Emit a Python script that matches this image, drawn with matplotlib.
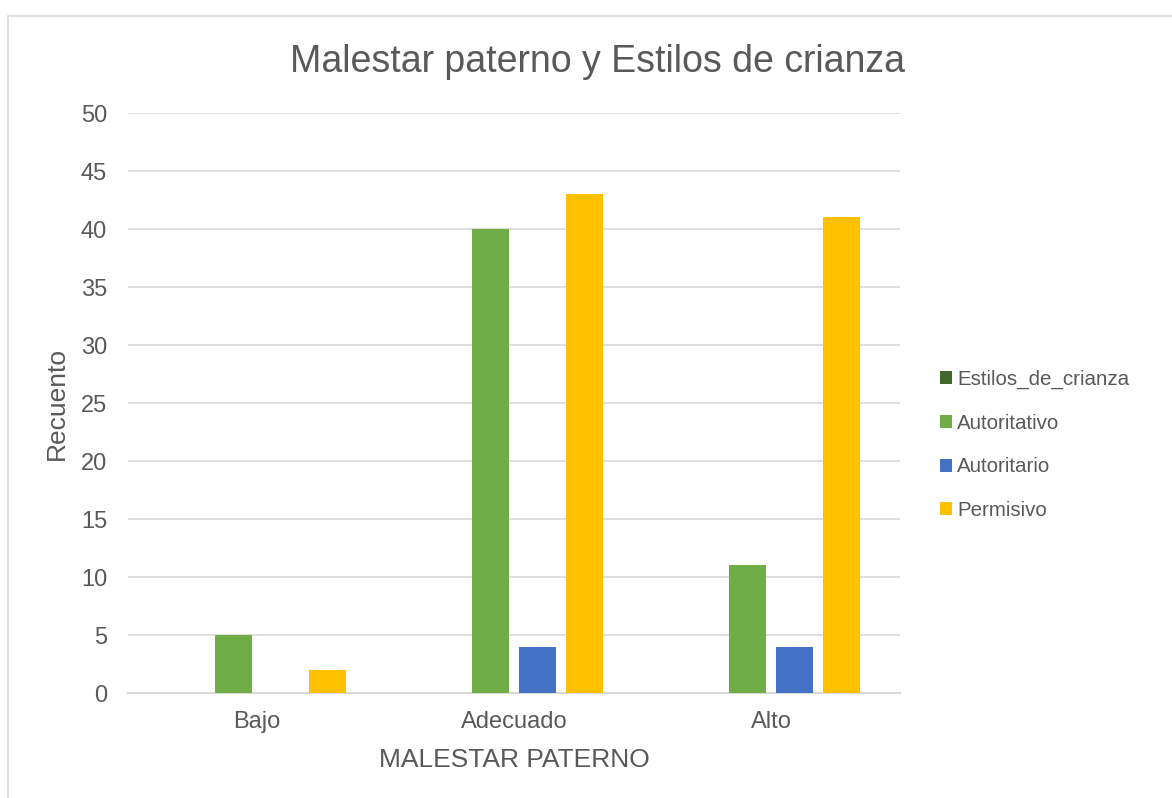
import matplotlib
matplotlib.use("Agg")
import matplotlib.pyplot as plt
from matplotlib.patches import Rectangle
import numpy as np

categories = ["Bajo", "Adecuado", "Alto"]
series_names = ["Estilos_de_crianza", "Autoritativo", "Autoritario", "Permisivo"]
estilos = [0, 0, 0]
autoritativo = [5, 40, 11]
autoritario = [0, 4, 4]
permisivo = [2, 43, 41]
colors = ["#43682B", "#70AD47", "#4472C4", "#FFC000"]

plt.rcParams['font.family'] = ['Liberation Sans', 'DejaVu Sans']
W, H = 1172, 798
fig = plt.figure(figsize=(W/100, H/100), dpi=100)
fig.patch.set_facecolor("white")

# chart border
fig.add_artist(Rectangle((8/W, -0.01), 1.1, 1 - 16/H + 0.01, transform=fig.transFigure,
                         fill=False, edgecolor="#D9D9D9", linewidth=1.2))

ax = fig.add_axes([128/W, 1 - 693/H, (900-128)/W, (693-113)/H])
x = np.arange(len(categories))
step = 0.183
width = 0.144
data = [estilos, autoritativo, autoritario, permisivo]
for i, (name, vals, c) in enumerate(zip(series_names, data, colors)):
    ax.bar(x + (i - 1.5) * step, vals, width, color=c, label=name, zorder=3)

ax.set_xlim(-0.5, 2.5)
ax.set_ylim(0, 50)
ax.set_yticks(range(0, 51, 5))
ax.grid(axis='y', color="#D9D9D9", linewidth=1.2, zorder=0)
for s in ['top', 'right', 'left']:
    ax.spines[s].set_visible(False)
ax.spines['bottom'].set_color("#D9D9D9")
ax.spines['bottom'].set_linewidth(1.5)
ax.tick_params(axis='both', length=0, labelsize=17, labelcolor="#595959")
ax.tick_params(axis='y', pad=15)
ax.tick_params(axis='x', pad=13)
ax.set_xticks(x)
ax.set_xticklabels(categories)

ax.set_ylabel("Recuento", fontsize=19, color="#595959", labelpad=8.5)
ax.set_xlabel("MALESTAR PATERNO", fontsize=19, color="#595959", labelpad=11)
fig.text(598/W, 1 - 62/H, "Malestar paterno y Estilos de crianza", fontsize=27,
         color="#595959", ha="center", va="center")

leg = ax.legend(loc="center left", bbox_to_anchor=(921/W, 1 - 445/H), bbox_transform=fig.transFigure,
                frameon=False, fontsize=14.8, handlelength=0.6, handleheight=0.6,
                handletextpad=0.25, labelspacing=1.2, labelcolor="#595959")

fig.savefig("out.png", dpi=100)
